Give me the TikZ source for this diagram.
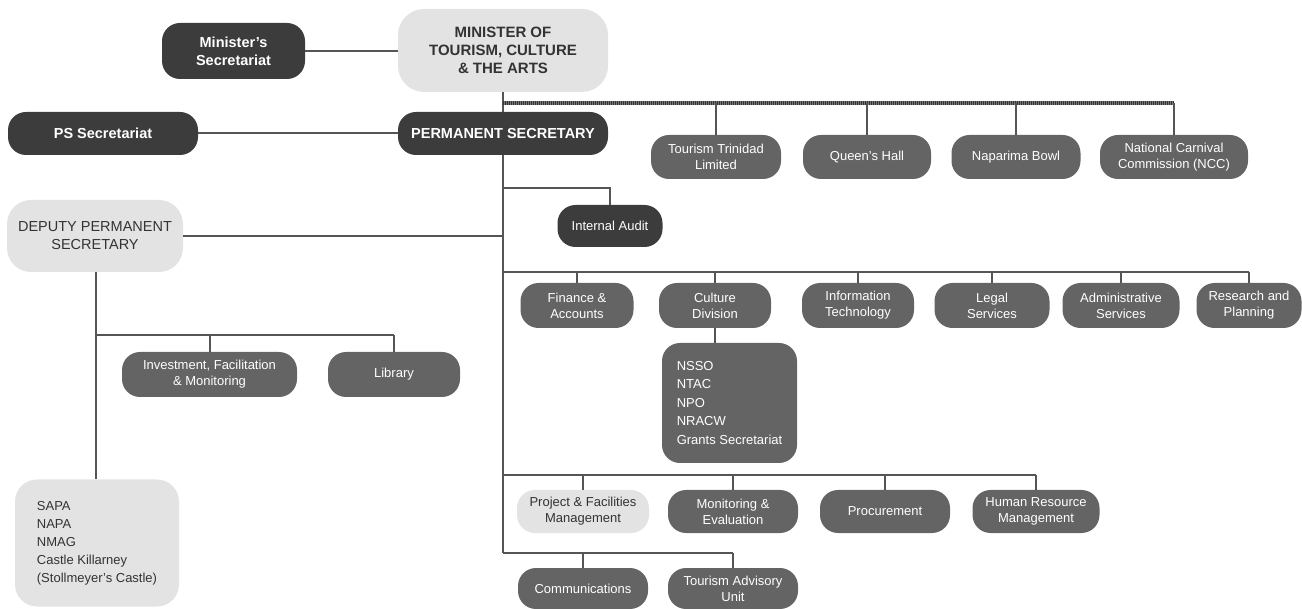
\documentclass[tikz,border=0pt]{standalone}
\usepackage{fontspec}
\setmainfont{Liberation Sans}
\definecolor{dkc}{HTML}{3C3C3C}
\definecolor{mdc}{HTML}{646464}
\definecolor{ltc}{HTML}{E3E3E3}
\definecolor{txc}{HTML}{333333}
\definecolor{lnc}{HTML}{555555}
\begin{document}
\begin{tikzpicture}[x=1pt,y=-1pt,
  every node/.style={inner sep=0pt, align=center},
  dk/.style={fill=dkc, text=white, rounded corners=18pt, font=\fontsize{14.5}{18}\selectfont\bfseries},
  md/.style={fill=mdc, text=white, rounded corners=18pt, font=\fontsize{13}{16}\selectfont},
  lt/.style={fill=ltc, text=txc, rounded corners=24pt, font=\fontsize{14.5}{18}\selectfont},
  ln/.style={draw=lnc, line width=2pt},
  hatchbase/.style={draw=lnc!80, line width=4pt},
  hatch/.style={draw=black!80, line width=4pt, dash pattern=on 1pt off 1pt},
]
\useasboundingbox (0,0) rectangle (1302,609);
% top
\node[dk, minimum width=143pt, minimum height=56pt] (minsec) at (233.5,51) {Minister’s\\Secretariat};
\node[lt, minimum width=210pt, minimum height=83pt, rounded corners=26pt, font=\fontsize{15}{18}\selectfont\bfseries] (minister) at (503,50.5) {MINISTER OF\\TOURISM, CULTURE\\\& THE ARTS};
\node[dk, minimum width=190pt, minimum height=43pt] (pssec) at (103,133.5) {PS Secretariat};
\node[dk, minimum width=210pt, minimum height=43pt] (permsec) at (503,133.5) {PERMANENT SECRETARY};
% agencies
\node[md, minimum width=130pt, minimum height=44pt] (ttl) at (716,157) {Tourism Trinidad\\Limited};
\node[md, minimum width=128pt, minimum height=44pt] (qh) at (867,157) {Queen’s Hall};
\node[md, minimum width=129pt, minimum height=44pt] (nb) at (1016,157) {Naparima Bowl};
\node[md, minimum width=148pt, minimum height=44pt] (ncc) at (1174,157) {National Carnival\\Commission (NCC)};
% audit
\node[dk, minimum width=105pt, minimum height=42pt, font=\fontsize{13}{16}\selectfont] (audit) at (610,226) {Internal Audit};
% deputy
\node[lt, minimum width=176pt, minimum height=72pt] (dps) at (95,236) {DEPUTY PERMANENT\\SECRETARY};
\node[md, minimum width=175pt, minimum height=45pt] (ifm) at (209.5,374.5) {Investment, Facilitation\\\& Monitoring};
\node[md, minimum width=132pt, minimum height=45pt] (lib) at (394,374.5) {Library};
\node[lt, minimum width=164pt, minimum height=127pt, rounded corners=22pt, align=left, font=\fontsize{13}{18}\selectfont] (sapa) at (97,543) {SAPA\\NAPA\\NMAG\\Castle Killarney\\(Stollmeyer’s Castle)};
% row 1
\node[md, minimum width=113pt, minimum height=45pt] (fin) at (577,305.5) {Finance \&\\Accounts};
\node[md, minimum width=112pt, minimum height=45pt] (cult) at (715,305.5) {Culture\\Division};
\node[md, minimum width=112pt, minimum height=45pt] (it) at (858,305.5) {Information\\Technology};
\node[md, minimum width=115pt, minimum height=45pt] (legal) at (992,305.5) {Legal\\Services};
\node[md, minimum width=117pt, minimum height=45pt] (admin) at (1121,305.5) {Administrative\\Services};
\node[md, minimum width=105pt, minimum height=45pt] (rnp) at (1249,305.5) {Research and\\Planning};
\node[md, minimum width=135pt, minimum height=120pt, align=left, font=\fontsize{13}{18.5}\selectfont] (cultsub) at (729.5,403) {NSSO\\NTAC\\NPO\\NRACW\\Grants Secretariat};
% row 2
\node[lt, minimum width=132pt, minimum height=43pt, rounded corners=18pt, font=\fontsize{13}{16}\selectfont] (pfm) at (583,511.5) {Project \& Facilities\\Management};
\node[md, minimum width=130pt, minimum height=43pt] (mne) at (733,511.5) {Monitoring \&\\Evaluation};
\node[md, minimum width=130pt, minimum height=43pt] (proc) at (885,511.5) {Procurement};
\node[md, minimum width=127pt, minimum height=43pt] (hrm) at (1036,511.5) {Human Resource\\Management};
% row 3
\node[md, minimum width=130pt, minimum height=41pt] (comm) at (583,588.5) {Communications};
\node[md, minimum width=130pt, minimum height=41pt] (tau) at (733,588.5) {Tourism Advisory\\Unit};

% coordinates
\coordinate (hA) at (503,103);
\coordinate (hB) at (1174,103);
\coordinate (aud) at (503,188);
\coordinate (dj) at (503,236);
\coordinate (r1) at (503,272);
\coordinate (r1e) at (1249,272);
\coordinate (r2) at (503,475);
\coordinate (r2e) at (1036,475);
\coordinate (r3) at (503,553);
\coordinate (r3e) at (733,553);
\coordinate (dv) at (96,335);
\coordinate (dve) at (394,335);

% connectors
\draw[ln] (minsec.east) -- (minsec.east -| minister.west);
\draw[ln] (pssec.east) -- (permsec.west);
\draw[ln] (minister.south) -- (permsec.north);
\draw[ln] (permsec.south) -- (r3);
\draw[hatchbase] (hA) -- (hB);
\draw[hatch] (hA) -- (hB);
\foreach \n in {ttl,qh,nb,ncc} \draw[ln] (\n.north |- hA) -- (\n.north);
\draw[ln] (aud) -- (aud -| audit.north) -- (audit.north);
\draw[ln] (dps.east |- dj) -- (dj);
\draw[ln] (r1) -- (r1e);
\foreach \n in {fin,cult,it,legal,admin,rnp} \draw[ln] (\n.north |- r1) -- (\n.north);
\draw[ln] (cult.south) -- (cult.south |- cultsub.north);
\draw[ln] (r2) -- (r2e);
\foreach \n in {pfm,mne,proc,hrm} \draw[ln] (\n.north |- r2) -- (\n.north);
\draw[ln] (r3) -- (r3e);
\foreach \n in {comm,tau} \draw[ln] (\n.north |- r3) -- (\n.north);
\draw[ln] (dv |- dps.south) -- (dv |- sapa.north);
\draw[ln] (dv) -- (dve);
\foreach \n in {ifm,lib} \draw[ln] (\n.north |- dv) -- (\n.north);
\end{tikzpicture}
\end{document}
